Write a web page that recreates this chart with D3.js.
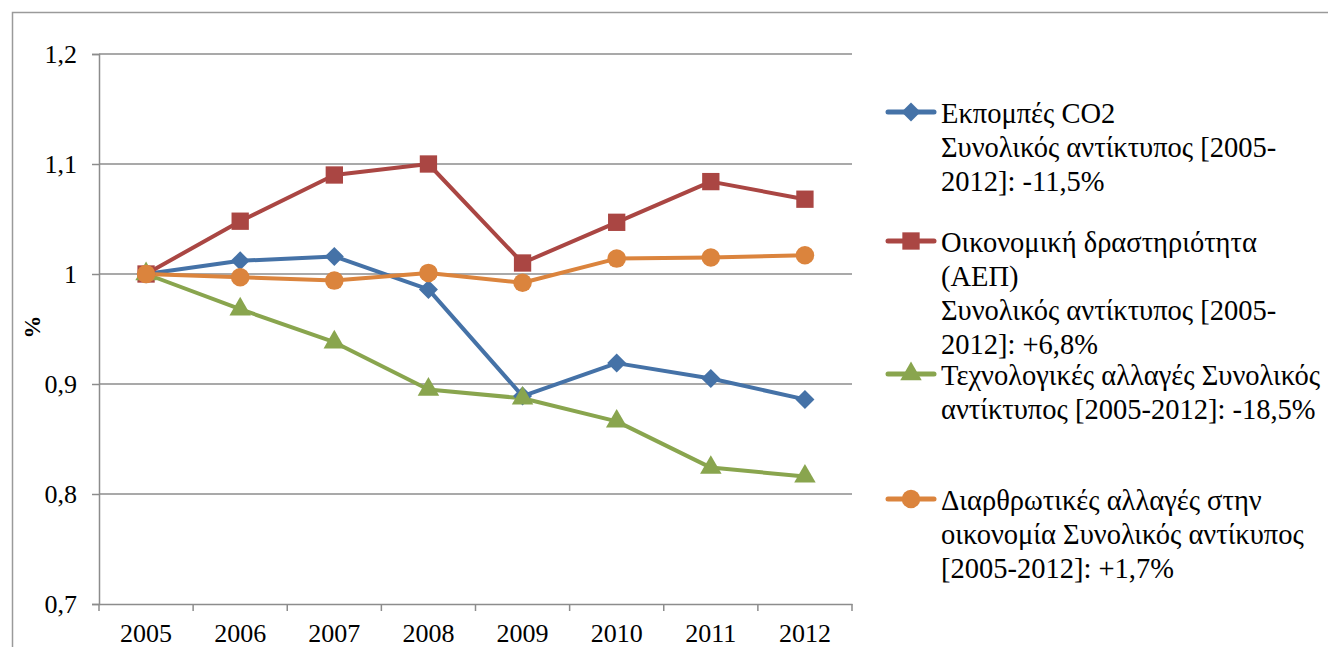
<!DOCTYPE html>
<html>
<head>
<meta charset="utf-8">
<script src="https://cdn.jsdelivr.net/npm/d3@7"></script>
<style>
body{margin:0;background:#fff;}
</style>
</head>
<body>
<div class="canvas"></div>
<script>
// data
const years = ['2005','2006','2007','2008','2009','2010','2011','2012'];
const co2 = [1.000,1.012,1.016,0.986,0.889,0.919,0.905,0.886];
const gdp = [1.000,1.048,1.090,1.100,1.010,1.047,1.084,1.068];
const tech = [1.000,0.968,0.938,0.895,0.887,0.866,0.824,0.816];
const struct = [1.000,0.997,0.994,1.001,0.992,1.014,1.015,1.017];
const yTicks = [0.7,0.8,0.9,1.0,1.1,1.2];
const yTickLabels = ['0,7','0,8','0,9','1','1,1','1,2'];

const series = [
  {name:['Εκπομπές CO2','Συνολικός αντίκτυπος [2005-','2012]: -11,5%'], values:co2, color:'#4572A7', sym:'diamond', ly:112},
  {name:['Οικονομική δραστηριότητα','(ΑΕΠ)','Συνολικός αντίκτυπος [2005-','2012]: +6,8%'], values:gdp, color:'#AA4643', sym:'square', ly:241},
  {name:['Τεχνολογικές αλλαγές Συνολικός','αντίκτυπος [2005-2012]: -18,5%'], values:tech, color:'#89A54E', sym:'triangle', ly:374},
  {name:['Διαρθρωτικές αλλαγές στην','οικονομία Συνολικός αντίκυπος','[2005-2012]: +1,7%'], values:struct, color:'#DB843D', sym:'circle', ly:499}
];

const FONT = 'Liberation Serif';
const W = 1328, H = 647;
const svg = d3.select('.canvas')
  .append('svg')
    .attr('width', W)
    .attr('height', H);

// outer frame
svg.append('rect')
  .attr('x',12.5).attr('y',12.5)
  .attr('width',W).attr('height',H)
  .attr('fill','none').attr('stroke','#9a9a9a').attr('stroke-width',1.5);

const margin = {top:54, left:99, right:W-852, bottom:H-604};
const graphWidth = W - margin.left - margin.right;
const graphHeight = H - margin.top - margin.bottom;
const graph = svg.append('g')
  .attr('transform',`translate(${margin.left},${margin.top})`);

// scales
const x = d3.scaleBand().domain(years).range([0,graphWidth]);
const y = d3.scaleLinear().domain([0.7,1.2]).range([graphHeight,0]);

// gridlines
graph.append('g')
  .selectAll('line')
  .data(yTicks.slice(1))
  .enter().append('line')
    .attr('x1',0).attr('x2',graphWidth)
    .attr('y1',d=>y(d)).attr('y2',d=>y(d))
    .attr('stroke','#8c8c8c').attr('stroke-width',1.5);

// axes
const yAxis = d3.axisLeft(y)
  .tickValues(yTicks)
  .tickSize(7)
  .tickPadding(15)
  .tickFormat((d,i)=>yTickLabels[i]);
const yAxisGroup = graph.append('g').call(yAxis);

const xAxis = d3.axisBottom(x).tickSize(0).tickPadding(20);
const xAxisGroup = graph.append('g')
  .attr('transform',`translate(0,${graphHeight})`)
  .call(xAxis);
// ticks between categories
xAxisGroup.selectAll('.bt')
  .data(d3.range(years.length+1))
  .enter().append('line')
    .attr('class','bt')
    .attr('x1',i=>i*x.step()).attr('x2',i=>i*x.step())
    .attr('y1',0).attr('y2',7)
    .attr('stroke','#8c8c8c').attr('stroke-width',1.5);

[yAxisGroup,xAxisGroup].forEach(g=>{
  g.attr('font-family',FONT).attr('font-size',26);
  g.select('.domain').attr('stroke','#8c8c8c').attr('stroke-width',1.5);
  g.selectAll('.tick line').attr('stroke','#8c8c8c').attr('stroke-width',1.5);
  g.selectAll('text')
    .style('font-family',FONT)
    .style('font-size','26px')
    .attr('fill','#000');
});

// y axis title
svg.append('text')
  .attr('transform','translate(40,327) rotate(-90)')
  .attr('text-anchor','middle')
  .style('font-family',FONT)
  .style('font-size','23px').style('font-weight','bold')
  .text('%');

const symbols = {
  diamond: d3.symbol().type(d3.symbolDiamond2).size(230),
  square: d3.symbol().type(d3.symbolSquare).size(300),
  triangle: d3.symbol().type(d3.symbolTriangle).size(200),
  circle: d3.symbol().type(d3.symbolCircle).size(270)
};

const line = d3.line()
  .x((d,i)=>x(years[i]) + x.bandwidth()/2)
  .y(d=>y(d));

series.forEach(s=>{
  graph.append('path')
    .attr('d',line(s.values))
    .attr('fill','none')
    .attr('stroke',s.color)
    .attr('stroke-width',4)
    .attr('stroke-linejoin','round');
});
series.forEach(s=>{
  graph.selectAll(null)
    .data(s.values)
    .enter().append('path')
      .attr('d',symbols[s.sym])
      .attr('transform',(d,i)=>`translate(${x(years[i])+x.bandwidth()/2},${y(d)})`)
      .attr('fill',s.color);
});

// legend
const legend = svg.append('g');
series.forEach(s=>{
  const g = legend.append('g').attr('transform',`translate(0,${s.ly})`);
  g.append('line')
    .attr('x1',888).attr('x2',934).attr('y1',0).attr('y2',0)
    .attr('stroke',s.color).attr('stroke-width',5).attr('stroke-linecap','round');
  g.append('path')
    .attr('d',symbols[s.sym])
    .attr('transform','translate(911,0)')
    .attr('fill',s.color);
  const t = g.append('text')
    .attr('x',941).attr('y',11)
    .style('font-family',FONT)
    .style('font-size','28.5px').attr('fill','#000');
  s.name.forEach((n,i)=>{
    t.append('tspan').attr('x',941).attr('dy',i===0?0:34).text(n);
  });
});
</script>
</body>
</html>
